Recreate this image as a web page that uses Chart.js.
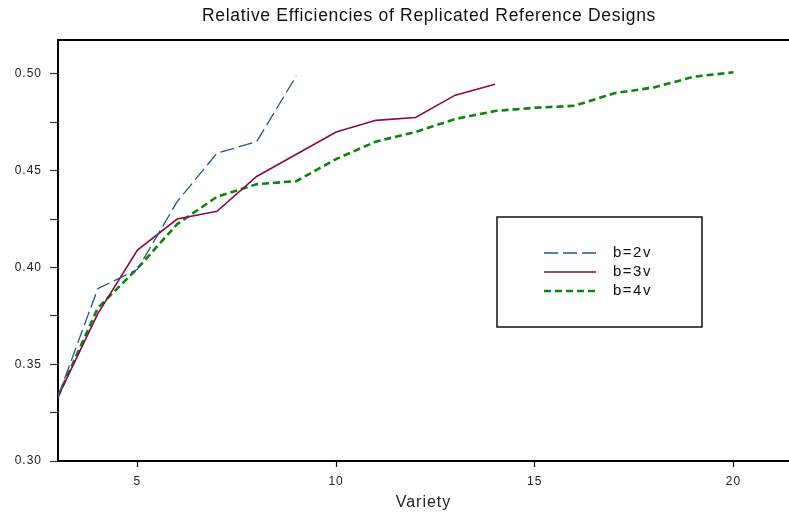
<!DOCTYPE html>
<html>
<head>
<meta charset="utf-8">
<script src="https://cdn.jsdelivr.net/npm/chart.js@4/dist/chart.umd.min.js"></script>
<style>
  html, body { margin: 0; padding: 0; background: #fff; }
  #wrap { width: 789px; height: 512px; }
</style>
</head>
<body>
<div id="wrap"><canvas id="effChart" width="789" height="512"></canvas></div>
<script>
// ---------- Data ----------
const variety2v = [3, 4, 5, 6, 7, 8, 9];
const eff2v = [0.3333, 0.389, 0.399, 0.434, 0.459, 0.465, 0.499];

const variety3v = [3, 4, 5, 6, 7, 8, 9, 10, 11, 12, 13, 14];
const eff3v = [0.3333, 0.376, 0.409, 0.425, 0.429, 0.447, 0.4585, 0.470, 0.476, 0.4775, 0.489, 0.4946];

const variety4v = [3, 4, 5, 6, 7, 8, 9, 10, 11, 12, 13, 14, 15, 16, 17, 18, 19, 20];
const eff4v = [0.3333, 0.379, 0.3995, 0.4224, 0.4365, 0.443, 0.4446, 0.456, 0.465, 0.470,
               0.4767, 0.4808, 0.4825, 0.4835, 0.490, 0.493, 0.4985, 0.5008];

const seriesLabels = ["b=2v", "b=3v", "b=4v"];
const xTicks = [5, 10, 15, 20];
const yTicks = [0.30, 0.325, 0.35, 0.375, 0.40, 0.425, 0.45, 0.475, 0.50];

const chartTitle = "Relative Efficiencies of Replicated Reference Designs";
const xTitle = "Variety";

const toPoints = (xs, ys) => xs.map((x, i) => ({ x: x, y: ys[i] }));

// ---------- Plugins ----------
// the original render has slightly wide text
const spacingPlugin = {
  id: "spacing",
  beforeLayout(chart) { chart.ctx.letterSpacing = "1px"; },
  beforeDraw(chart) { chart.ctx.letterSpacing = "1px"; },
};

const framePlugin = {
  id: "frame",
  afterDraw(chart) {
    const ctx = chart.ctx;
    const area = chart.chartArea;
    ctx.save();

    // top border line
    ctx.strokeStyle = "#000";
    ctx.lineWidth = 2;
    ctx.beginPath();
    ctx.moveTo(area.left, area.top);
    ctx.lineTo(area.right, area.top);
    ctx.stroke();

    // title
    ctx.letterSpacing = "0.7px";
    ctx.fillStyle = "#111";
    ctx.font = "17.5px 'Liberation Sans', Arial, sans-serif";
    ctx.textAlign = "center";
    ctx.textBaseline = "middle";
    ctx.fillText(chartTitle, 429, 16);

    // legend box
    const bx = 497, by = 217, bw = 205, bh = 110;
    ctx.lineWidth = 1.5;
    ctx.strokeStyle = "#111";
    ctx.strokeRect(bx, by, bw, bh);

    ctx.letterSpacing = "1.5px";
    ctx.font = "15px 'Liberation Sans', Arial, sans-serif";
    ctx.textAlign = "left";
    chart.data.datasets.forEach((ds, i) => {
      const y = 253 + i * 19;
      ctx.strokeStyle = ds.borderColor;
      ctx.lineWidth = ds.borderWidth;
      ctx.setLineDash(ds.borderDash || []);
      ctx.beginPath();
      ctx.moveTo(544, y);
      ctx.lineTo(596, y);
      ctx.stroke();
      ctx.setLineDash([]);
      ctx.fillStyle = "#111";
      ctx.fillText(ds.label, 613, y);
    });

    ctx.restore();
  },
};

// ---------- Chart ----------
const ctx = document.getElementById("effChart").getContext("2d");

const effChart = new Chart(ctx, {
  type: "line",
  data: {
    datasets: [
      {
        label: seriesLabels[0],
        data: toPoints(variety2v, eff2v),
        borderColor: "#24558f",
        borderWidth: 1.3,
        borderDash: [14, 5],
      },
      {
        label: seriesLabels[1],
        data: toPoints(variety3v, eff3v),
        borderColor: "#8a0a4a",
        borderWidth: 1.6,
      },
      {
        label: seriesLabels[2],
        data: toPoints(variety4v, eff4v),
        borderColor: "#0a860a",
        borderWidth: 2.6,
        borderDash: [7, 4],
      },
    ],
  },
  options: {
    responsive: false,
    animation: false,
    events: [],
    elements: {
      point: { radius: 0 },
      line: { tension: 0, fill: false },
    },
    layout: { padding: { top: 40, right: 0, left: 0, bottom: 0 } },
    plugins: {
      legend: { display: false },
      title: { display: false },
      tooltip: { enabled: false },
    },
    scales: {
      x: {
        type: "linear",
        min: 3,
        max: 21.4,
        afterBuildTicks(scale) { scale.ticks = xTicks.map(v => ({ value: v })); },
        afterFit(scale) { scale.height = 51; },
        grid: { drawOnChartArea: false, drawTicks: true, tickLength: 6, tickColor: "#000", tickWidth: 1.2 },
        border: { display: true, color: "#000", width: 2 },
        ticks: {
          autoSkip: false,
          maxRotation: 0,
          padding: 7,
          color: "#222",
          font: { family: "'Liberation Sans', Arial, sans-serif", size: 12 },
        },
        title: {
          display: true,
          text: xTitle,
          color: "#222",
          padding: { top: 0, bottom: 0 },
          font: { family: "'Liberation Sans', Arial, sans-serif", size: 16 },
        },
      },
      y: {
        type: "linear",
        min: 0.30,
        max: 0.5175,
        afterBuildTicks(scale) { scale.ticks = yTicks.map(v => ({ value: v })); },
        afterFit(scale) { scale.width = 58; },
        grid: { drawOnChartArea: false, drawTicks: true, tickLength: 8, tickColor: "#333", tickWidth: 1.2 },
        border: { display: true, color: "#000", width: 2 },
        ticks: {
          autoSkip: false,
          padding: 8,
          color: "#222",
          font: { family: "'Liberation Sans', Arial, sans-serif", size: 12 },
          callback: (value) => (Math.round(value * 1000) % 50 === 0 ? value.toFixed(2) : ""),
        },
      },
    },
  },
  plugins: [spacingPlugin, framePlugin],
});
</script>
</body>
</html>
